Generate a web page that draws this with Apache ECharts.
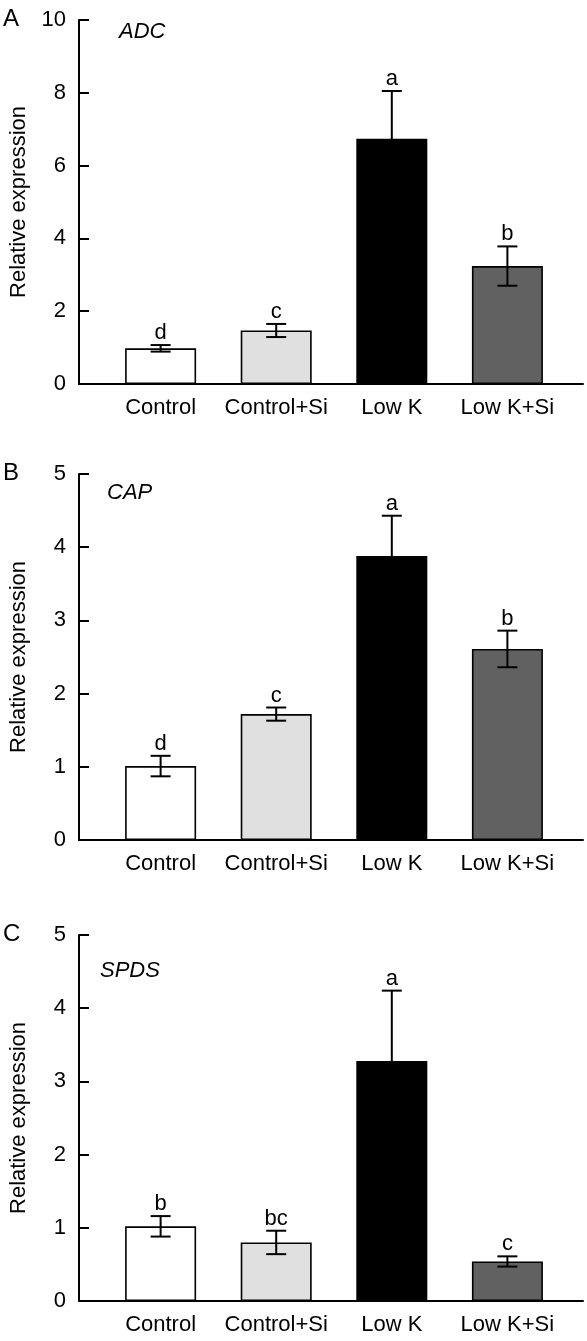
<!DOCTYPE html>
<html>
<head>
<meta charset="utf-8">
<script src="https://cdn.jsdelivr.net/npm/echarts@6.0.0/dist/echarts.min.js"></script>
<style>
html,body{margin:0;padding:0;background:#fff;}
#chart{width:587px;height:1341px;}
</style>
</head>
<body>
<div id="chart"></div>
<script>
// ---- data ----
const categories = ['Control', 'Control+Si', 'Low K', 'Low K+Si'];
const barColors = ['#ffffff', '#e0e0e0', '#000000', '#616161'];

const panelLetters = ['A', 'B', 'C'];
const geneNames = ['ADC', 'CAP', 'SPDS'];

const adcMean = [0.98, 1.47, 6.74, 3.24];
const adcErr = [0.09, 0.18, 1.31, 0.54];
const adcSig = ['d', 'c', 'a', 'b'];

const capMean = [1.01, 1.72, 3.88, 2.61];
const capErr = [0.14, 0.09, 0.55, 0.25];
const capSig = ['d', 'c', 'a', 'b'];

const spdsMean = [1.02, 0.80, 3.28, 0.54];
const spdsErr = [0.14, 0.16, 0.96, 0.07];
const spdsSig = ['b', 'bc', 'a', 'c'];

const yMax = [10, 5, 5];
const yInterval = [2, 1, 1];
const yTicks = [[0, 2, 4, 6, 8, 10], [0, 1, 2, 3, 4, 5], [0, 1, 2, 3, 4, 5]];

// ---- layout ----
const FONT = "'Liberation Sans', Arial, Helvetica, sans-serif";
const FS = 22;
const panels = [
  { mean: adcMean, err: adcErr, sig: adcSig, top: 20, height: 364, letterTop: 7, geneLeft: 119, geneTop: 21 },
  { mean: capMean, err: capErr, sig: capSig, top: 474, height: 366, letterTop: 461, geneLeft: 107, geneTop: 482 },
  { mean: spdsMean, err: spdsErr, sig: spdsSig, top: 935, height: 366, letterTop: 922, geneLeft: 100, geneTop: 960 }
];

const grid = [], xAxis = [], yAxis = [], series = [], graphic = [];

panels.forEach((p, k) => {
  grid.push({ left: 75, right: 4, top: p.top, height: p.height, containLabel: false });
  xAxis.push({
    type: 'value', gridIndex: k, min: -0.706, max: 3.654,
    splitLine: { show: false },
    axisTick: { show: false },
    axisLine: { show: true, onZero: false, lineStyle: { color: '#000', width: 2 } },
    axisLabel: {
      customValues: [0, 1, 2, 3],
      formatter: v => categories[Math.round(v)] || '',
      color: '#000', fontSize: FS, fontFamily: FONT, margin: 13
    }
  });
  yAxis.push({
    type: 'value', gridIndex: k, min: 0, max: yMax[k], interval: yInterval[k],
    splitLine: { show: false },
    axisLine: { show: true, onZero: false, lineStyle: { color: '#000', width: 2 } },
    axisTick: { show: true, inside: true, length: 10, lineStyle: { color: '#000', width: 2 } },
    axisLabel: {
      color: '#000', fontSize: FS, fontFamily: FONT, margin: 13,
      customValues: yTicks[k]
    },
    name: 'Relative expression', nameLocation: 'middle', nameGap: 49,
    nameTextStyle: { color: '#000', fontSize: FS, fontFamily: FONT }
  });
  series.push({
    type: 'bar', xAxisIndex: k, yAxisIndex: k, barWidth: 71,
    data: p.mean.map((v, i) => ({
      value: [i, v],
      itemStyle: { color: barColors[i], borderColor: '#000', borderWidth: 1.6 }
    })),
    emphasis: { disabled: true },
    silent: true, animation: false
  });
  series.push({
    type: 'custom', xAxisIndex: k, yAxisIndex: k, z: 5, silent: true, animation: false,
    data: p.mean.map((v, i) => [i, v, p.err[i]]),
    renderItem: function (params, api) {
      const i = api.value(0), m = api.value(1), e = api.value(2);
      const letter = p.sig[params.dataIndex];
      const hi = api.coord([i, m + e]);
      const lo = api.coord([i, m - e]);
      const hw = 10;
      const ls = { stroke: '#000', lineWidth: 2 };
      return {
        type: 'group',
        children: [
          { type: 'line', shape: { x1: hi[0], y1: hi[1], x2: lo[0], y2: lo[1] }, style: ls },
          { type: 'line', shape: { x1: hi[0] - hw, y1: hi[1], x2: hi[0] + hw, y2: hi[1] }, style: ls },
          { type: 'line', shape: { x1: lo[0] - hw, y1: lo[1], x2: lo[0] + hw, y2: lo[1] }, style: ls },
          { type: 'text', x: hi[0], y: hi[1] - 1,
            style: { text: letter, fill: '#000', font: FS + 'px ' + FONT, textAlign: 'center', textVerticalAlign: 'bottom' } }
        ]
      };
    }
  });
  graphic.push({ type: 'text', left: 3, top: p.letterTop, style: { text: panelLetters[k], fill: '#000', font: '24px ' + FONT } });
  graphic.push({ type: 'text', left: p.geneLeft, top: p.geneTop, style: { text: geneNames[k], fill: '#000', font: 'italic ' + FS + 'px ' + FONT } });
});

const chart = echarts.init(document.getElementById('chart'), null, { renderer: 'canvas' });
chart.setOption({
  backgroundColor: '#fff',
  animation: false,
  grid, xAxis, yAxis, series, graphic
});
</script>
</body>
</html>
